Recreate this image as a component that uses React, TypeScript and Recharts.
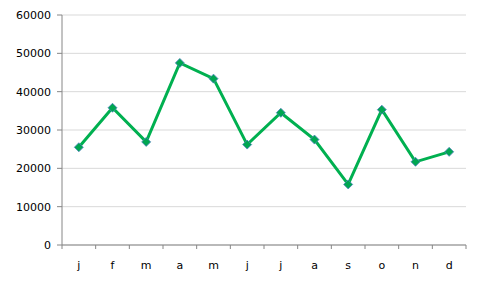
import React from "react";
import { LineChart, Line, XAxis, YAxis, CartesianGrid } from "recharts";

const months = ["j", "f", "m", "a", "m", "j", "j", "a", "s", "o", "n", "d"];
const values = [25500, 35800, 26900, 47500, 43400, 26200, 34500, 27500, 15800, 35300, 21700, 24300];
const yTicks = [0, 10000, 20000, 30000, 40000, 50000, 60000];
const bandTicks = [0, 1, 2, 3, 4, 5, 6, 7, 8, 9, 10, 11, 12];
const labelTicks = months.map((_, i) => i + 0.5);

const data = months.map((m, i) => ({ pos: i + 0.5, month: m, value: values[i] }));

const Diamond = (props: any) => {
  const { cx, cy } = props;
  if (cx == null || cy == null) return null;
  const r = 4.5;
  return (
    <polygon
      points={`${cx},${cy - r} ${cx + r},${cy} ${cx},${cy + r} ${cx - r},${cy}`}
      fill="#00A651"
      stroke="#4F81BD"
      strokeWidth={0.8}
    />
  );
};

export default function App() {
  const font = { fontFamily: "DejaVu Sans", fontSize: 11, fill: "#000" };
  return (
    <div style={{ position: "absolute", left: 0, top: 0, width: 482, height: 290, background: "#fff" }}>
      <LineChart width={482} height={290} data={data} margin={{ top: 15, right: 16, left: 0, bottom: 0 }}>
        <CartesianGrid xAxisId="a" horizontal vertical={false} stroke="#D9D9D9" />
        <XAxis
          xAxisId="b"
          dataKey="pos"
          type="number"
          domain={[0, 12]}
          ticks={labelTicks}
          tickFormatter={(v: number) => months[Math.floor(v)]}
          axisLine={false}
          tickLine={false}
          tickSize={0}
          tickMargin={10}
          height={39}
          tick={font}
          interval={0}
        />
        <XAxis
          xAxisId="a"
          dataKey="pos"
          type="number"
          domain={[0, 12]}
          ticks={bandTicks}
          tickFormatter={() => " "}
          tickSize={4}
          height={6}
          interval={0}
          axisLine={{ stroke: "#868686" }}
          tickLine={{ stroke: "#868686" }}
        />
        <YAxis
          domain={[0, 60000]}
          ticks={yTicks}
          width={62}
          tickSize={5}
          tickMargin={6}
          axisLine={{ stroke: "#868686" }}
          tickLine={{ stroke: "#868686" }}
          tick={font}
          interval={0}
        />
        <Line
          xAxisId="a"
          dataKey="value"
          stroke="#00B050"
          strokeWidth={3}
          dot={<Diamond />}
          activeDot={false}
          isAnimationActive={false}
        />
      </LineChart>
    </div>
  );
}
